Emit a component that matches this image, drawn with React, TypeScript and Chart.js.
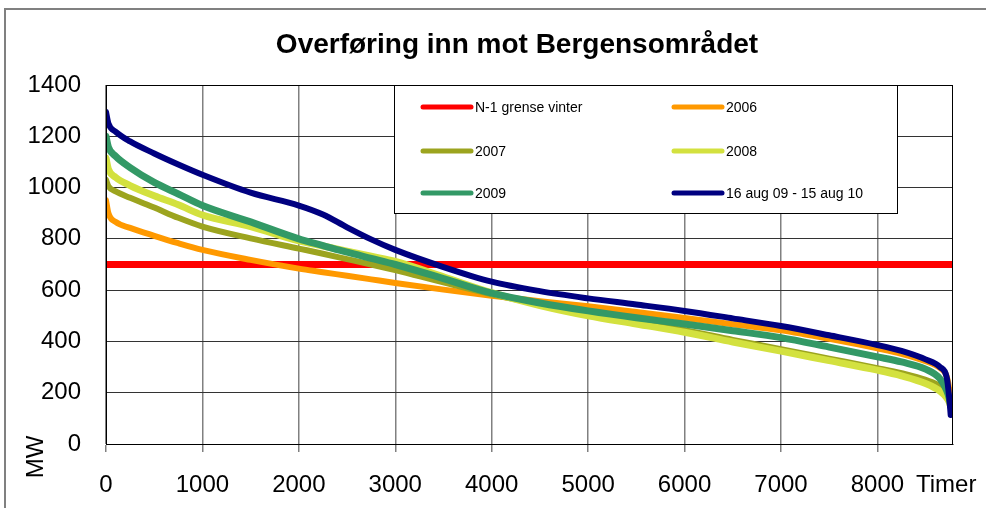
import React, { useEffect, useRef } from "react";
import { Chart, registerables } from "chart.js";

Chart.register(...registerables);

const chartTitle = "Overføring inn mot Bergensområdet";
const yAxisTitle = "MW";
const xAxisTitle = "Timer";

const xMax = 8784;
const xTickValues = [0, 1000, 2000, 3000, 4000, 5000, 6000, 7000, 8000];
const yMin = 0;
const yMax = 1400;
const yStep = 200;

// duration-curve hours (sorted hours of the year)
const hours = [0, 25, 100, 250, 500, 750, 1000, 1500, 2000, 2250, 2500, 2750, 3000, 3500, 4000, 4500, 5000, 5500, 6000, 6500, 7000, 7500, 8000, 8250, 8500, 8650, 8720, 8745, 8760];

const limitHours = [0, 8784];
const limitValues = [700, 700];

const values2006 = [950, 900, 866, 843, 812, 783, 757, 718, 684, 670, 656, 642, 628, 602, 578, 557, 537, 515, 491, 467, 443, 410, 373, 352, 323, 296, 262, 212, 145];
const values2007 = [1030, 1005, 985, 960, 922, 882, 848, 802, 762, 742, 721, 700, 678, 630, 584, 545, 508, 476, 444, 406, 370, 333, 296, 276, 250, 225, 194, 170, 148];
const values2008 = [1115, 1072, 1040, 1008, 968, 933, 893, 848, 792, 772, 752, 732, 712, 652, 590, 540, 500, 468, 436, 398, 362, 325, 288, 266, 236, 206, 180, 163, 145];
const values2009 = [1200, 1158, 1122, 1078, 1020, 975, 930, 866, 800, 774, 748, 724, 700, 645, 588, 550, 519, 492, 468, 442, 415, 378, 340, 320, 292, 254, 207, 178, 150];
const valuesLast12 = [1295, 1250, 1218, 1180, 1133, 1090, 1050, 980, 930, 895, 845, 798, 757, 690, 633, 596, 568, 544, 519, 490, 460, 424, 386, 363, 330, 300, 258, 180, 113];

const seriesLabels = ["N-1 grense vinter", "2006", "2007", "2008", "2009", "16 aug 09 - 15 aug 10"];
const seriesColors = ["#FF0000", "#FF9900", "#9CA41F", "#D3E13F", "#339966", "#000080"];

const FONT = "'Liberation Sans', Arial, Helvetica, sans-serif";

const toPoints = (xs: number[], ys: number[]) => xs.map((x, i) => ({ x, y: ys[i] }));

const decorPlugin = {
  id: "decor",
  beforeDraw(chart: any) {
    const ctx = chart.ctx;
    ctx.save();
    ctx.fillStyle = "#ffffff";
    ctx.fillRect(0, 0, chart.width, chart.height);
    ctx.strokeStyle = "#808080";
    ctx.lineWidth = 2;
    ctx.strokeRect(5, 9, chart.width + 40, chart.height + 40);
    ctx.restore();
  },
  afterDatasetsDraw(chart: any) {
    const ctx = chart.ctx;
    const { left, top, right, bottom } = chart.chartArea;
    ctx.save();
    // plot frame
    ctx.strokeStyle = "#000";
    ctx.lineWidth = 1;
    ctx.strokeRect(left + 0.5, top + 0.5, right - left - 1, bottom - top);

    // legend box
    const bx = 394, by = top, bw = 503, bh = 128;
    ctx.fillStyle = "#fff";
    ctx.fillRect(bx, by, bw, bh);
    ctx.strokeStyle = "#000";
    ctx.strokeRect(bx + 0.5, by + 0.5, bw, bh);
    const colX = [bx + 29, bx + 280];
    const rowY = [by + 22, by + 66, by + 108];
    ctx.font = `14px ${FONT}`;
    ctx.textBaseline = "middle";
    ctx.textAlign = "left";
    chart.data.datasets.forEach((ds: any, i: number) => {
      const cx = colX[i % 2];
      const cy = rowY[Math.floor(i / 2)];
      ctx.strokeStyle = ds.borderColor;
      ctx.lineWidth = 5;
      ctx.lineCap = "round";
      ctx.beginPath();
      ctx.moveTo(cx, cy);
      ctx.lineTo(cx + 48, cy);
      ctx.stroke();
      ctx.fillStyle = "#000";
      ctx.fillText(ds.label, cx + 52, cy + 1);
    });

    // title
    ctx.font = `bold 28px ${FONT}`;
    ctx.textAlign = "center";
    ctx.fillStyle = "#000";
    ctx.fillText(chartTitle, 517, 45);

    // axis titles
    ctx.font = `24px ${FONT}`;
    ctx.textAlign = "left";
    ctx.fillText(xAxisTitle, 916, 485);
    ctx.save();
    ctx.translate(36, 457);
    ctx.rotate(-Math.PI / 2);
    ctx.textAlign = "center";
    ctx.fillText(yAxisTitle, 0, 0);
    ctx.restore();
    ctx.restore();
  },
};

export default function App() {
  const ref = useRef<HTMLCanvasElement>(null);
  useEffect(() => {
    const lineDefaults = {
      pointRadius: 0,
      borderWidth: 6,
      fill: false,
      cubicInterpolationMode: "monotone" as const,
      borderCapStyle: "round" as const,
      borderJoinStyle: "round" as const,
    };
    const chart = new Chart(ref.current!, {
      type: "line",
      data: {
        datasets: [
          { ...lineDefaults, label: seriesLabels[0], data: toPoints(limitHours, limitValues), borderColor: seriesColors[0], borderWidth: 7, borderCapStyle: "butt", order: 5 },
          { ...lineDefaults, label: seriesLabels[1], data: toPoints(hours, values2006), borderColor: seriesColors[1], order: 4 },
          { ...lineDefaults, label: seriesLabels[2], data: toPoints(hours, values2007), borderColor: seriesColors[2], order: 3 },
          { ...lineDefaults, label: seriesLabels[3], data: toPoints(hours, values2008), borderColor: seriesColors[3], borderWidth: 7, order: 2 },
          { ...lineDefaults, label: seriesLabels[4], data: toPoints(hours, values2009), borderColor: seriesColors[4], borderWidth: 7, order: 1 },
          { ...lineDefaults, label: seriesLabels[5], data: toPoints(hours, valuesLast12), borderColor: seriesColors[5], order: 0 },
        ],
      },
      options: {
        responsive: false,
        animation: false,
        layout: { padding: { top: 85, right: 33, bottom: 0, left: 0 } },
        plugins: {
          legend: { display: false },
          title: { display: false },
          tooltip: { enabled: false },
        },
        scales: {
          x: {
            type: "linear",
            min: 0,
            max: xMax,
            afterBuildTicks: (scale: any) => {
              scale.ticks = xTickValues.map((v) => ({ value: v }));
            },
            afterFit: (scale: any) => {
              scale.height = 64;
            },
            ticks: {
              color: "#000",
              font: { family: FONT, size: 24 },
              padding: 19,
              maxRotation: 0,
              autoSkip: false,
              callback: (v: any) => String(v),
            },
            grid: { color: "#808080", lineWidth: 1.5, tickLength: 8, drawTicks: true, tickColor: "#808080" },
            border: { color: "#000", width: 1 },
          },
          y: {
            min: yMin,
            max: yMax,
            afterFit: (scale: any) => {
              scale.width = 106;
            },
            ticks: {
              stepSize: yStep,
              color: "#000",
              font: { family: FONT, size: 24 },
              padding: 25,
              callback: (v: any) => String(v),
            },
            grid: { color: "#333", lineWidth: 1, drawTicks: false },
            border: { color: "#000", width: 1 },
          },
        },
      },
      plugins: [decorPlugin],
    });
    return () => chart.destroy();
  }, []);
  return (
    <div style={{ position: "absolute", left: 0, top: 0, width: 986, height: 508 }}>
      <canvas ref={ref} width={986} height={508} style={{ display: "block" }} />
    </div>
  );
}
